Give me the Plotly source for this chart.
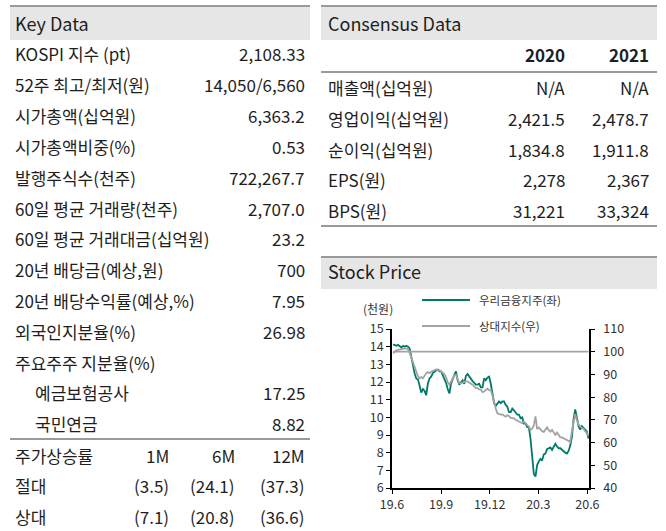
import plotly.graph_objects as go
import pandas as pd

W, H = 666, 531

# ---------------- data ----------------
key_labels = ["KOSPI 지수 (pt)", "52주 최고/최저(원)", "시가총액(십억원)", "시가총액비중(%)",
              "발행주식수(천주)", "60일 평균 거래량(천주)", "60일 평균 거래대금(십억원)",
              "20년 배당금(예상,원)", "20년 배당수익률(예상,%)", "외국인지분율(%)",
              "주요주주 지분율(%)", "예금보험공사", "국민연금"]
key_values = ["2,108.33", "14,050/6,560", "6,363.2", "0.53", "722,267.7", "2,707.0", "23.2",
              "700", "7.95", "26.98", "", "17.25", "8.82"]
key_indent = [False] * 11 + [True, True]

perf_header = ["주가상승률", "1M", "6M", "12M"]
perf_rows = ["절대", "상대"]
perf_values = [["(3.5)", "(24.1)", "(37.3)"], ["(7.1)", "(20.8)", "(36.6)"]]

cons_years = ["2020", "2021"]
cons_labels = ["매출액(십억원)", "영업이익(십억원)", "순이익(십억원)", "EPS(원)", "BPS(원)"]
cons_2020 = ["N/A", "2,421.5", "1,834.8", "2,278", "31,221"]
cons_2021 = ["N/A", "2,478.7", "1,911.8", "2,367", "33,324"]

series_names = ["우리금융지주(좌)", "상대지수(우)"]
x_ticks = ["2019-06-01", "2019-09-01", "2019-12-01", "2020-03-01", "2020-06-01"]
x_ticktext = ["19.6", "19.9", "19.12", "20.3", "20.6"]

price = [14.13, 14.1, 14.05, 14.1, 14.0, 13.95, 14.05, 14.0, 14.05, 14.0,
         13.9, 13.4, 13.0, 12.5, 12.2, 12.15, 11.8, 11.4, 11.6, 11.5,
         11.25, 11.9, 12.2, 12.3, 12.5, 12.6, 12.65, 12.7, 12.6, 12.6,
         12.4, 12.15, 11.95, 11.6, 11.35, 11.9, 12.1, 12.4, 12.6, 12.1,
         11.85, 12.0, 12.1, 11.9, 12.35, 12.45, 12.3, 12.15, 12.05, 11.95,
         11.85, 11.85, 11.9, 11.7, 11.7, 12.2, 12.1, 12.25, 12.3, 11.9,
         11.2, 10.8, 10.65, 10.75, 10.9, 10.8, 10.9, 10.9, 10.7, 10.6,
         10.3, 10.3, 10.5, 10.4, 10.3, 10.15, 10.15, 9.95, 10.0, 9.65,
         9.65, 9.45, 9.45, 8.8, 7.8, 6.8, 6.65, 7.3, 7.5, 7.65,
         7.55, 7.9, 7.95, 8.2, 8.25, 8.3, 8.15, 8.35, 8.5, 8.35,
         8.25, 8.25, 8.15, 8.05, 8.0, 7.95, 8.1, 8.4, 8.9, 9.9,
         10.45, 10.0, 9.5, 9.3, 9.5, 9.4, 9.3, 9.2, 8.8]

relative = [99.3, 100.2, 100.6, 100.8, 101.0, 101.2, 101.3, 101.5, 101.4, 101.2,
            99.5, 97.5, 95.8, 93.5, 91.3, 89.3, 88.3, 88.8, 88.3, 89.5,
            90.5, 91.0, 90.6, 91.2, 91.6, 92.0, 92.2, 91.9, 91.8, 91.3,
            90.6, 90.2, 88.7, 86.6, 85.5, 87.0, 88.5, 89.6, 89.9, 88.0,
            86.1, 86.2, 86.5, 86.8, 86.9, 86.9, 86.5, 86.0, 85.5, 84.7,
            84.0, 84.0, 83.4, 83.3, 82.2, 82.5, 83.1, 83.8, 83.1, 83.0,
            80.8, 77.5, 75.0, 72.9, 72.5, 72.3, 72.4, 71.8, 71.4, 72.0,
            71.7, 70.9, 70.8, 70.7, 70.0, 69.6, 69.2, 68.6, 68.5, 69.2,
            68.5, 67.8, 67.0, 65.6, 66.1, 67.5, 71.5, 66.0, 66.6, 65.8,
            65.0, 64.7, 66.0, 66.7, 65.5, 64.8, 65.6, 64.2, 63.4, 64.4,
            63.0, 62.3, 62.3, 61.9, 61.6, 61.0, 60.7, 60.3, 65.0, 69.0,
            72.5, 70.0, 68.0, 67.0, 66.5, 66.0, 65.0, 64.3, 62.8]
base_level = [100, 100]

dates = pd.date_range("2019-06-03", "2020-06-03", periods=len(price))

# ---------------- helpers ----------------
FONT = "Noto Sans CJK KR"
TXT = "#1e1e1e"
BAND = "#e6e6e6"
LINE = "#9a9a9a"


def px(x):
    return x / W


def py(y):
    return 1 - y / H


annotations = []
shapes = []


def text(x, y, s, size=17, anchor="left", color=TXT, bold=False):
    annotations.append(dict(
        x=px(x), y=py(y), xref="paper", yref="paper", text=(f"<b>{s}</b>" if bold else s),
        showarrow=False, xanchor=anchor, yanchor="middle",
        font=dict(family=FONT, size=size, color=color)))


def rect(x0, y0, x1, y1, color):
    shapes.append(dict(type="rect", xref="paper", yref="paper",
                       x0=px(x0), x1=px(x1), y0=py(y1), y1=py(y0),
                       fillcolor=color, line=dict(width=0), layer="below"))


def hline(x0, x1, y, color=LINE, width=2):
    shapes.append(dict(type="line", xref="paper", yref="paper",
                       x0=px(x0), x1=px(x1), y0=py(y), y1=py(y),
                       line=dict(color=color, width=width)))


# ---------------- Key Data ----------------
rect(10, 6, 310, 40, BAND)
hline(10, 310, 6)
text(13, 23, "Key Data", size=18)
key_y0, key_dy = 54, 30.8
for i, (lab, val) in enumerate(zip(key_labels, key_values)):
    y = key_y0 + i * key_dy
    text(33 if key_indent[i] else 13, y, lab)
    if val:
        text(307, y, val, anchor="right")
hline(10, 310, 439)
perf_y0 = 455
perf_x = [171, 237, 307]
text(13, perf_y0, perf_header[0])
for j in range(3):
    text(perf_x[j], perf_y0, perf_header[j + 1], anchor="right")
for r, lab in enumerate(perf_rows):
    y = perf_y0 + (r + 1) * 30.5
    text(13, y, lab)
    for j in range(3):
        text(perf_x[j], y, perf_values[r][j], anchor="right")

# ---------------- Consensus Data ----------------
rect(321, 6, 657, 40, BAND)
hline(321, 657, 6)
text(326, 23, "Consensus Data", size=18)
cons_x = [567, 651]
for j, yr in enumerate(cons_years):
    text(cons_x[j], 55, yr, anchor="right", bold=True)
hline(321, 657, 72)
for i, lab in enumerate(cons_labels):
    y = 88 + i * 30.5
    text(326, y, lab)
    text(cons_x[0], y, cons_2020[i], anchor="right")
    text(cons_x[1], y, cons_2021[i], anchor="right")
hline(321, 657, 226)

# ---------------- Stock Price ----------------
rect(321, 257, 657, 289, BAND)
hline(321, 657, 257)
text(326, 271, "Stock Price", size=18)

TEAL = "#00786a"
GREY = "#a3a3a3"
# legend
hline(422, 470, 300, color=TEAL, width=2)
text(477, 300, series_names[0], size=11.5, color="#333")
hline(422, 470, 326, color=GREY, width=2)
text(477, 326, series_names[1], size=11.5, color="#333")
text(378, 308, "(천원)", size=12, anchor="center", color="#333")

fig = go.Figure()
fig.add_trace(go.Scatter(x=[dates[0], dates[-1]], y=base_level, yaxis="y2", mode="lines",
                         line=dict(color=GREY, width=1.8), showlegend=False, hoverinfo="skip"))
fig.add_trace(go.Scatter(x=dates, y=price, name=series_names[0], mode="lines",
                         line=dict(color=TEAL, width=1.8), showlegend=False))
fig.add_trace(go.Scatter(x=dates, y=relative, name=series_names[1], yaxis="y2", mode="lines",
                         line=dict(color=GREY, width=1.8), showlegend=False))

tickfont = dict(family=FONT, size=12.5, color="#333")
fig.update_layout(
    width=W, height=H, margin=dict(l=0, r=0, t=0, b=0, autoexpand=False),
    paper_bgcolor="white", plot_bgcolor="white",
    annotations=annotations, shapes=shapes, showlegend=False,
    xaxis=dict(domain=[px(392), px(589)], type="date",
               range=["2019-06-01", "2020-06-04"],
               tickvals=x_ticks, ticktext=x_ticktext, ticks="outside", ticklen=4,
               tickcolor="black", showline=True, linecolor="black", linewidth=1.5,
               showgrid=False, zeroline=False, tickfont=tickfont, anchor="y",
               automargin=False),
    yaxis=dict(domain=[py(488), py(329)], range=[6, 15], dtick=1, ticks="outside",
               ticklen=4, tickcolor="black", showline=True, linecolor="black",
               linewidth=1.5, showgrid=False, zeroline=False, tickfont=tickfont,
               anchor="x", automargin=False),
    yaxis2=dict(overlaying="y", side="right", range=[40, 110], dtick=10, ticks="outside",
                ticklen=4, tickcolor="black", showline=True, linecolor="black",
                linewidth=1.5, showgrid=False, zeroline=False, tickfont=tickfont,
                anchor="x", ticklabelstandoff=6, automargin=False),
)

fig.write_html("out.html", config={"displayModeBar": False},
               post_script="document.body.style.margin='0';document.body.style.overflow='hidden';")
